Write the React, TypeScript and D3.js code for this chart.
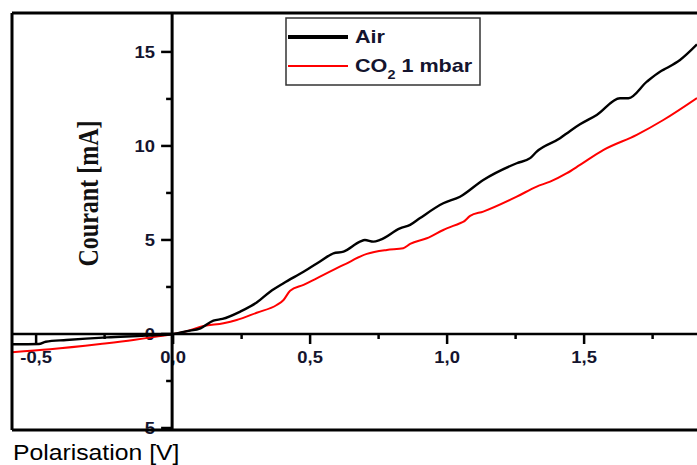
import React from "react";
import * as d3 from "d3";

// Data
const airV = [-0.588, -0.49, -0.465, -0.39, -0.24, -0.10, 0, 0.05, 0.10, 0.147, 0.18, 0.245, 0.305, 0.354, 0.403, 0.476, 0.536, 0.585, 0.622, 0.682, 0.70, 0.731, 0.755, 0.828, 0.865, 0.90, 0.986, 1.047, 1.132, 1.254, 1.303, 1.327, 1.412, 1.449, 1.485, 1.546, 1.631, 1.662, 1.729, 1.777, 1.80, 1.85, 1.912];
const airI = [-0.55, -0.53, -0.41, -0.32, -0.18, -0.09, 0, 0.15, 0.30, 0.71, 0.80, 1.19, 1.67, 2.25, 2.70, 3.31, 3.85, 4.29, 4.38, 4.91, 5.0, 4.91, 5.0, 5.62, 5.80, 6.15, 6.95, 7.30, 8.19, 9.08, 9.35, 9.70, 10.41, 10.8, 11.15, 11.65, 12.54, 12.54, 13.42, 13.95, 14.13, 14.57, 15.4];

const co2V = [-0.588, -0.449, -0.266, -0.145, -0.06, 0, 0.05, 0.111, 0.184, 0.232, 0.305, 0.378, 0.403, 0.427, 0.476, 0.524, 0.622, 0.707, 0.78, 0.84, 0.865, 0.926, 0.986, 1.047, 1.06, 1.084, 1.132, 1.254, 1.327, 1.376, 1.437, 1.485, 1.571, 1.692, 1.789, 1.912];
const co2I = [-0.97, -0.81, -0.53, -0.32, -0.14, 0, 0.15, 0.42, 0.57, 0.74, 1.13, 1.54, 1.81, 2.30, 2.61, 2.96, 3.67, 4.26, 4.47, 4.56, 4.79, 5.09, 5.53, 5.89, 5.97, 6.28, 6.51, 7.3, 7.84, 8.1, 8.55, 8.99, 9.79, 10.59, 11.38, 12.55];

const xTickValues = [-0.5, 0, 0.5, 1.0, 1.5];
const xTickLabels = ["-0,5", "0,0", "0,5", "1,0", "1,5"];
const xMinorTicks = [-0.25, 0.25, 0.75, 1.25, 1.75];
const yTickValues = [-5, 0, 5, 10, 15];
const yTickLabels = ["-5", "0", "5", "10", "15"];
const yMinorTicks = [-2.5, 2.5, 7.5, 12.5];

const seriesNames = ["Air", "CO2 1 mbar"];

export default function App() {
  const W = 697, H = 465;
  const left = 12, right = 697, top = 13, bottom = 430;
  const x = d3.scaleLinear().domain([-0.588, 1.912]).range([left, right]);
  const y = d3.scaleLinear().domain([-5, 17.07]).range([428, top]);
  const x0 = x(0);
  const y0 = y(0);

  const line = d3
    .line<[number, number]>()
    .x((d) => x(d[0]))
    .y((d) => y(d[1]))
    .curve(d3.curveMonotoneX);

  const airPath = line(airV.map((v, i) => [v, airI[i]] as [number, number])) || "";
  const co2Path = line(co2V.map((v, i) => [v, co2I[i]] as [number, number])) || "";

  const txt = "#14142e";
  const sans = "'Liberation Sans', Arial, sans-serif";

  return (
    <svg
      width={W}
      height={H}
      style={{ position: "absolute", left: 0, top: 0, display: "block", background: "#fff" }}
    >
      <defs>
        <clipPath id="plotclip">
          <rect x={left} y={top} width={right - left + 10} height={bottom - top} />
        </clipPath>
      </defs>

      {/* tick labels */}
      {yTickValues.map((v, i) => (
        <text
          key={"yl" + i}
          transform={`translate(155,${y(v)}) scale(1.15,1)`}
          textAnchor="end"
          dy="0.35em"
          fontSize={16}
          fontWeight="bold"
          fontFamily={sans}
          fill={txt}
        >
          {yTickLabels[i]}
        </text>
      ))}
      {xTickValues.map((v, i) => (
        <text
          key={"xl" + i}
          transform={`translate(${x(v)},357) scale(1.15,1)`}
          textAnchor="middle"
          dy="0.35em"
          fontSize={16}
          fontWeight="bold"
          fontFamily={sans}
          fill={txt}
        >
          {xTickLabels[i]}
        </text>
      ))}

      {/* curves */}
      <g clipPath="url(#plotclip)">
        <path d={co2Path} fill="none" stroke="#ff0000" strokeWidth={2} />
        <path d={airPath} fill="none" stroke="#000" strokeWidth={2.4} />
      </g>

      {/* frame */}
      <line x1={left} x2={720} y1={top} y2={top} stroke="#000" strokeWidth={3} />
      <line x1={left} x2={left} y1={top} y2={bottom} stroke="#000" strokeWidth={3} />
      <line x1={left} x2={720} y1={bottom} y2={bottom} stroke="#000" strokeWidth={3} />

      {/* x axis at y=0 */}
      <line x1={left} x2={720} y1={y0} y2={y0} stroke="#000" strokeWidth={2.5} />
      {xTickValues.map((v, i) => (
        <line key={"xt" + i} x1={x(v)} x2={x(v)} y1={y0} y2={y0 + 10} stroke="#000" strokeWidth={2.5} />
      ))}
      {xMinorTicks.map((v, i) => (
        <line key={"xm" + i} x1={x(v)} x2={x(v)} y1={y0} y2={y0 + 5} stroke="#000" strokeWidth={2.5} />
      ))}

      {/* y axis at x=0 */}
      <line x1={x0 - 1} x2={x0 - 1} y1={top} y2={bottom} stroke="#000" strokeWidth={3} />
      {yTickValues.map((v, i) => (
        <line key={"yt" + i} x1={x0 - 1} x2={x0 - 12} y1={y(v)} y2={y(v)} stroke="#000" strokeWidth={2.5} />
      ))}
      {yMinorTicks.map((v, i) => (
        <line key={"ym" + i} x1={x0 - 1} x2={x0 - 7} y1={y(v)} y2={y(v)} stroke="#000" strokeWidth={2.5} />
      ))}

      {/* legend */}
      <rect x={286} y={18} width={194} height={67} fill="#fff" stroke="#333" strokeWidth={1.5} />
      <line x1={288} x2={348} y1={37} y2={37} stroke="#000" strokeWidth={4} />
      <line x1={288} x2={348} y1={66} y2={66} stroke="#ff0000" strokeWidth={2} />
      <text transform="translate(355,43) scale(1.2,1)" fontSize={18} fontWeight="bold" fontFamily={sans} fill={txt}>
        {seriesNames[0]}
      </text>
      <text transform="translate(355,72) scale(1.2,1)" fontSize={18} fontWeight="bold" fontFamily={sans} fill={txt}>
        <tspan>CO</tspan>
        <tspan fontSize={12} dy={7}>2</tspan>
        <tspan dy={-7}> 1 mbar</tspan>
      </text>

      {/* axis titles */}
      <text
        transform="translate(98,193.5) scale(1.25,1) rotate(-90)"
        textAnchor="middle"
        fontSize={24}
        fontWeight="bold"
        fontFamily="'Liberation Serif', 'Times New Roman', serif"
        fill="#111"
      >
        Courant [mA]
      </text>
      <text
        transform="translate(13,460) scale(1.1,1)"
        fontSize={22.5}
        fontFamily={sans}
        fill="#000"
      >
        Polarisation [V]
      </text>
    </svg>
  );
}
